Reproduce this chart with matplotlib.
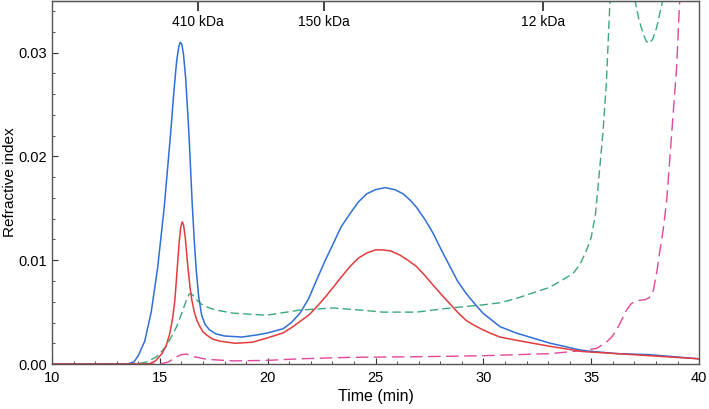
import numpy as np
import matplotlib.pyplot as plt
from matplotlib.ticker import MultipleLocator

plt.rcParams['font.family'] = ['Liberation Sans', 'DejaVu Sans']

# blue trace (solid)
blue_t = [10, 13.5, 13.8, 14.0, 14.3, 14.6, 14.9, 15.2, 15.5, 15.65, 15.78, 15.88, 15.95,
          16.02, 16.1, 16.2, 16.35, 16.5, 16.6, 16.68, 16.8, 16.94, 17.1, 17.3, 17.6, 18.0,
          18.8, 19.5, 20.0, 20.72, 21.1, 21.5, 21.9, 22.27, 22.65, 23.04, 23.4, 23.82,
          24.2, 24.59, 25.0, 25.44, 25.9, 26.28, 26.6, 26.9, 27.3, 27.67, 28.05, 28.45,
          28.8, 29.2, 29.6, 29.98, 30.77, 31.5, 33.1, 34.6, 36.2, 37.7, 40]
blue_y = [0, 0, 0.0002, 0.0008, 0.0022, 0.0050, 0.0093, 0.0150, 0.0222, 0.0262, 0.0292,
          0.0306, 0.0310, 0.0308, 0.0298, 0.0275, 0.0222, 0.0155, 0.0118, 0.0093, 0.0065,
          0.0047, 0.0038, 0.0033, 0.0029, 0.0027, 0.0026, 0.0028, 0.0030, 0.0034, 0.0040,
          0.0049, 0.0063, 0.0081, 0.0099, 0.0116, 0.0132, 0.0145, 0.0156, 0.0164, 0.0168,
          0.0170, 0.0168, 0.0164, 0.0158, 0.0151, 0.0139, 0.0126, 0.0110, 0.0094, 0.0080,
          0.0068, 0.0058, 0.0049, 0.0036, 0.0030, 0.0020, 0.0013, 0.0010, 0.0009, 0.0005]

# red trace (solid)
red_t = [10, 14.5, 14.8, 15.1, 15.3, 15.47, 15.6, 15.7, 15.81, 15.9, 15.97, 16.04, 16.1,
         16.18, 16.25, 16.32, 16.4, 16.48, 16.6, 16.72, 16.86, 17.0, 17.17, 17.45, 17.79,
         18.5, 19.3, 19.96, 20.72, 21.1, 21.5, 21.9, 22.27, 22.65, 23.04, 23.42, 23.82,
         24.2, 24.6, 25.0, 25.3, 25.7, 26.13, 26.5, 26.9, 27.3, 27.67, 28.05, 28.45, 28.8,
         29.2, 29.6, 29.98, 30.4, 30.77, 31.5, 33.1, 34.6, 36.2, 37.7, 40]
red_y = [0, 0, 0.0003, 0.0010, 0.0018, 0.0030, 0.0045, 0.0062, 0.0093, 0.0118, 0.0132,
         0.0137, 0.0134, 0.0122, 0.0105, 0.0090, 0.0074, 0.0062, 0.0050, 0.0042, 0.0036,
         0.0031, 0.0028, 0.0024, 0.0022, 0.0020, 0.0021, 0.0025, 0.0030, 0.0035, 0.0041,
         0.0047, 0.0055, 0.0064, 0.0074, 0.0084, 0.0094, 0.0102, 0.0107, 0.0110, 0.0110,
         0.0109, 0.0105, 0.0100, 0.0094, 0.0085, 0.0076, 0.0067, 0.0058, 0.0050, 0.0042,
         0.0037, 0.0033, 0.0029, 0.0026, 0.0023, 0.0017, 0.0012, 0.0010, 0.0008, 0.0005]

# green trace (dashed)
green_t = [10, 13.9, 14.4, 14.85, 15.3, 15.78, 16.0, 16.24, 16.35, 16.43, 16.55, 16.7,
           16.9, 17.17, 17.6, 18.4, 19.95, 21.5, 23.03, 24.28, 25.35, 26.9, 28.45, 29.98,
           30.77, 31.5, 33.09, 34.15, 34.48, 34.79, 35.0, 35.2, 35.4, 35.55, 35.7, 35.87,
           36.2, 36.7, 37.03, 37.2, 37.41, 37.55, 37.69, 37.85, 38.03, 38.31, 38.6]
green_y = [0, 0, 0.0002, 0.0007, 0.0017, 0.0036, 0.0048, 0.0062, 0.0067, 0.0068, 0.0066,
           0.0062, 0.0058, 0.0055, 0.0052, 0.0049, 0.0047, 0.0052, 0.0054, 0.0052, 0.0050,
           0.0050, 0.0054, 0.0057, 0.0059, 0.0063, 0.0074, 0.0087, 0.0096, 0.0110, 0.0122,
           0.0145, 0.0190, 0.0225, 0.0270, 0.0350, 0.045, 0.045, 0.0350, 0.0333, 0.0318,
           0.0311, 0.0309, 0.0313, 0.0324, 0.0350, 0.045]

# magenta trace (dashed)
mag_t = [10, 15.0, 15.4, 15.78, 16.0, 16.24, 16.6, 17.17, 18.4, 19.96, 21.5, 23.03, 23.8,
         26.9, 29.98, 33.1, 34.6, 35.25, 35.7, 35.95, 36.18, 36.4, 36.64, 36.85, 37.1,
         37.5, 37.7, 37.88, 38.05, 38.19, 38.34, 38.5, 38.73, 38.96, 39.1, 39.3]
mag_y = [0, 0, 0.0002, 0.0007, 0.0009, 0.00096, 0.0007, 0.00045, 0.0003, 0.00035, 0.0005,
         0.0006, 0.00064, 0.0007, 0.0008, 0.0010, 0.0013, 0.0015, 0.0021, 0.0026, 0.0033,
         0.0042, 0.0052, 0.0058, 0.0061, 0.0062, 0.0064, 0.0071, 0.0090, 0.0110, 0.0130,
         0.0158, 0.0222, 0.0286, 0.0350, 0.045]

kda_pos = [16.75, 22.6, 32.75]
kda_labels = ['410 kDa', '150 kDa', '12 kDa']

fig = plt.figure(figsize=(7.09, 4.09), dpi=100)
ax = fig.add_axes([0.0733, 0.110, 0.9127, 0.888])

ax.plot(green_t, green_y, color='#3aa87a', lw=1.0, dashes=(6, 3))
ax.plot(mag_t, mag_y, color='#e0479a', lw=1.0, dashes=(9, 4))
ax.plot(blue_t, blue_y, color='#2f6fd6', lw=1.1)
ax.plot(red_t, red_y, color='#e33b3b', lw=1.1)

ax.set_xlim(10, 40)
ax.set_ylim(0, 0.035)
ax.set_xticks([10, 15, 20, 25, 30, 35, 40])
ax.set_yticks([0, 0.01, 0.02, 0.03])
ax.set_yticklabels(['0.00', '0.01', '0.02', '0.03'])
ax.xaxis.set_minor_locator(MultipleLocator(1))
ax.yaxis.set_minor_locator(MultipleLocator(0.002))
ax.tick_params(which='both', direction='in', labelsize=10.5, color='#333333')
ax.tick_params(which='major', length=4)
ax.tick_params(which='minor', length=2.5)
ax.tick_params(axis='x', pad=5)
for s in ax.spines.values():
    s.set_color('#555555')
    s.set_linewidth(1.0)

ax.set_xlabel('Time (min)', fontsize=11.5, labelpad=3)
ax.set_ylabel('Refractive index', fontsize=11, labelpad=1)

top = ax.secondary_xaxis('top')
top.set_xticks(kda_pos)
top.set_xticklabels(kda_labels)
top.tick_params(direction='in', length=7, width=1.2, pad=-20, labelsize=10, color='#222222')

fig.savefig('out.png', dpi=100)
